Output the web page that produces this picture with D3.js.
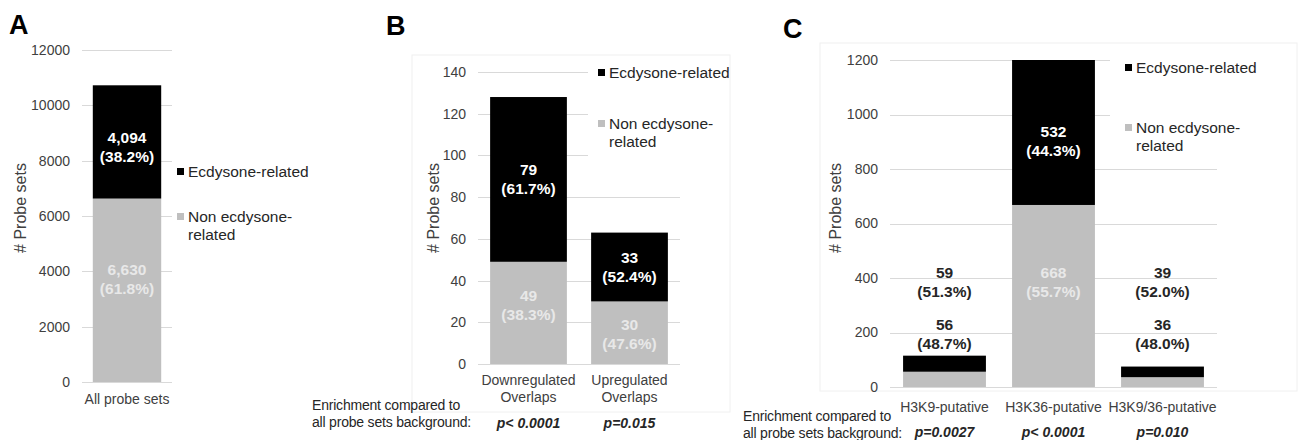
<!DOCTYPE html>
<html>
<head>
<meta charset="utf-8">
<script src="https://cdn.jsdelivr.net/npm/d3@7/dist/d3.min.js"></script>
<style>
  html, body { margin: 0; padding: 0; background: #fff; }
  svg { display: block; font-family: "Liberation Sans", Arial, sans-serif; }
</style>
</head>
<body>
<svg id="chart" width="1298" height="440"></svg>
<script>
// ---- Panel A: all probe sets ----
const aCategories = ["All probe sets"];
const aEcdysone = [4094];
const aNonEcdysone = [6630];
const aEcdysonePct = ["38.2%"];
const aNonEcdysonePct = ["61.8%"];
const aTicks = [0, 2000, 4000, 6000, 8000, 10000, 12000];

// ---- Panel B: overlaps with regulated genes ----
const bCategories = [["Downregulated", "Overlaps"], ["Upregulated", "Overlaps"]];
const bEcdysone = [79, 33];
const bNonEcdysone = [49, 30];
const bEcdysonePct = ["61.7%", "52.4%"];
const bNonEcdysonePct = ["38.3%", "47.6%"];
const bTicks = [0, 20, 40, 60, 80, 100, 120, 140];
const bPValues = ["p< 0.0001", "p=0.015"];

// ---- Panel C: histone-mark putative targets ----
const cCategories = [["H3K9-putative"], ["H3K36-putative"], ["H3K9/36-putative"]];
const cEcdysone = [59, 532, 39];
const cNonEcdysone = [56, 668, 36];
const cEcdysonePct = ["51.3%", "44.3%", "52.0%"];
const cNonEcdysonePct = ["48.7%", "55.7%", "48.0%"];
const cTicks = [0, 200, 400, 600, 800, 1000, 1200];
const cPValues = ["p=0.0027", "p< 0.0001", "p=0.010"];

const seriesNames = ["Ecdysone-related", ["Non ecdysone-", "related"]];
const enrichmentLines = ["Enrichment compared to", "all probe sets background:"];

const BLACK = "#000000";
const GRAY = "#bfbfbf";
const GRID = "#d9d9d9";
const AXIS_TEXT = "#404040";
const DARK_TEXT = "#262626";

const svg = d3.select("#chart");

function fmt(v) { return d3.format(",")(v); }

function drawPanel(p) {
  const g = svg.append("g");

  // faint chart-area frame
  if (p.frame) {
    g.append("rect")
      .attr("x", p.frame[0]).attr("y", p.frame[1])
      .attr("width", p.frame[2]).attr("height", p.frame[3])
      .attr("fill", "none").attr("stroke", "#f0f0f0").attr("stroke-width", 1);
  }

  const y = d3.scaleLinear().domain(p.yDomain).range(p.yRange);
  const x = d3.scaleBand()
    .domain(d3.range(p.categories.length))
    .range(p.xRange)
    .paddingInner(0.24)
    .paddingOuter(0.12);

  // gridlines + tick labels through a left axis
  const axis = d3.axisLeft(y).tickValues(p.ticks)
    .tickSize(-(p.xRange[1] - p.xRange[0]))
    .tickPadding(12)
    .tickFormat(d3.format("d"));
  const ag = g.append("g").attr("transform", `translate(${p.xRange[0]},0)`).call(axis);
  ag.select(".domain").remove();
  ag.selectAll(".tick line").attr("stroke", GRID).attr("stroke-width", 1)
    .attr("shape-rendering", "crispEdges");
  ag.selectAll(".tick text").attr("fill", AXIS_TEXT).attr("font-size", 14)
    .attr("font-family", "Liberation Sans, Arial, sans-serif");

  // legend, on a white backing that hides the gridlines behind it
  if (p.legendBox) {
    g.append("rect").attr("x", p.legendBox[0]).attr("y", p.legendBox[1])
      .attr("width", p.legendBox[2]).attr("height", p.legendBox[3]).attr("fill", "#fff");
  }
  const lg = g.append("g");
  [[BLACK, seriesNames[0], p.legendY[0]], [GRAY, seriesNames[1], p.legendY[1]]].forEach(([col, name, ly]) => {
    lg.append("rect").attr("x", p.legendX).attr("y", ly - 4).attr("width", 7).attr("height", 7).attr("fill", col);
    const lines = Array.isArray(name) ? name : [name];
    lines.forEach((t, i) => {
      lg.append("text").attr("x", p.legendX + 11).attr("y", ly + i * 18)
        .attr("dy", "0.35em").attr("font-size", 15.5).attr("fill", DARK_TEXT).text(t);
    });
  });

  // stacked bars: non-ecdysone at the bottom, ecdysone on top
  const bars = g.append("g");
  p.categories.forEach((c, i) => {
    const non = p.non[i], ecd = p.ecd[i];
    bars.append("rect").attr("x", x(i)).attr("width", x.bandwidth())
      .attr("y", y(non)).attr("height", y(0) - y(non)).attr("fill", GRAY);
    bars.append("rect").attr("x", x(i)).attr("width", x.bandwidth())
      .attr("y", y(non + ecd)).attr("height", y(non) - y(non + ecd)).attr("fill", BLACK);
  });

  // value labels (count over percentage)
  const lab = g.append("g").attr("font-size", 15.5).attr("font-weight", "bold").attr("text-anchor", "middle");
  p.categories.forEach((c, i) => {
    const cx = x(i) + x.bandwidth() / 2;
    const pos = p.labelPos(i, y);
    [[fmt(p.ecd[i]), "(" + p.ecdPct[i] + ")", pos.ecdY, pos.ecdCol],
     [fmt(p.non[i]), "(" + p.nonPct[i] + ")", pos.nonY, pos.nonCol]].forEach(([v, pc, ly, col]) => {
      lab.append("text").attr("x", cx).attr("y", ly - 9.5).attr("dy", "0.35em").attr("fill", col).text(v);
      lab.append("text").attr("x", cx).attr("y", ly + 9.5).attr("dy", "0.35em").attr("fill", col).text(pc);
    });
  });

  // category labels
  const cg = g.append("g").attr("font-size", 14).attr("fill", AXIS_TEXT).attr("text-anchor", "middle");
  p.categories.forEach((c, i) => {
    const cx = x(i) + x.bandwidth() / 2;
    const lines = Array.isArray(c) ? c : [c];
    lines.forEach((t, k) => {
      cg.append("text").attr("x", cx).attr("y", p.catY + k * 17).attr("dy", "0.35em").text(t);
    });
  });

  // p-values
  if (p.pValues) {
    const pg = g.append("g").attr("font-size", 14).attr("font-weight", "bold")
      .attr("font-style", "italic").attr("fill", DARK_TEXT).attr("text-anchor", "middle");
    p.pValues.forEach((t, i) => {
      pg.append("text").attr("x", x(i) + x.bandwidth() / 2).attr("y", p.pY).attr("dy", "0.35em").text(t);
    });
    enrichmentLines.forEach((t, k) => {
      g.append("text").attr("x", p.enrichX).attr("y", p.enrichY + k * 17).attr("dy", "0.35em")
        .attr("font-size", 14).attr("fill", DARK_TEXT).attr("letter-spacing", "-0.2").text(t);
    });
  }

  // y-axis title
  g.append("text")
    .attr("transform", `translate(${p.titleX},208) rotate(-90)`)
    .attr("text-anchor", "middle").attr("dy", "0.35em")
    .attr("font-size", 16).attr("fill", AXIS_TEXT).text("# Probe sets");

  // panel letter
  g.append("text").attr("x", p.letterX).attr("y", p.letterY)
    .attr("font-size", 27).attr("font-weight", "bold").attr("fill", "#000").text(p.letter);
}

// labels sit inside each segment, near its middle (shifted by a per-label nudge)
function insideLabels(p, nudge) {
  return (i, y) => {
    const non = p.non[i], ecd = p.ecd[i];
    const n = nudge[i] || [0, 0];
    return {
      ecdY: (y(non) + y(non + ecd)) / 2 + n[0], ecdCol: "#ffffff",
      nonY: (y(0) + y(non)) / 2 + n[1], nonCol: "#e8e8e8"
    };
  };
}

const panelA = {
  letter: "A", letterX: 9, letterY: 34,
  categories: aCategories, ecd: aEcdysone, non: aNonEcdysone,
  ecdPct: aEcdysonePct, nonPct: aNonEcdysonePct,
  ticks: aTicks, yDomain: [0, 12000], yRange: [382, 50], xRange: [82, 172],
  legendX: 177, legendY: [172, 217], titleX: 20, catY: 399
};
panelA.labelPos = insideLabels(panelA, [[5, -11]]);
drawPanel(panelA);

const panelB = {
  letter: "B", letterX: 386, letterY: 35,
  frame: [412, 55, 318, 357],
  categories: bCategories, ecd: bEcdysone, non: bNonEcdysone,
  ecdPct: bEcdysonePct, nonPct: bNonEcdysonePct,
  ticks: bTicks, yDomain: [0, 140], yRange: [364, 72], xRange: [478, 680],
  legendBox: [588, 60, 140, 104],
  legendX: 598, legendY: [73, 124], titleX: 433, catY: 380,
  pValues: bPValues, pY: 423, enrichX: 312, enrichY: 405
};
panelB.labelPos = insideLabels(panelB, [[0, -7.5], [0, 1]]);
drawPanel(panelB);

const panelC = {
  letter: "C", letterX: 783, letterY: 38,
  frame: [820, 43, 477, 348],
  categories: cCategories, ecd: cEcdysone, non: cNonEcdysone,
  ecdPct: cEcdysonePct, nonPct: cNonEcdysonePct,
  ticks: cTicks, yDomain: [0, 1200], yRange: [387, 60], xRange: [890, 1217],
  legendBox: [1110, 48, 186, 110],
  legendX: 1125, legendY: [68, 128], titleX: 835, catY: 407,
  pValues: cPValues, pY: 432, enrichX: 743, enrichY: 416
};
// short bars carry their labels stacked above them
panelC.labelPos = (i, y) => {
  const inside = insideLabels(panelC, [[0, 0], [9, -13.5], [0, 0]])(i, y);
  if (panelC.ecd[i] + panelC.non[i] > 300) return inside;
  return { ecdY: y(384), ecdCol: DARK_TEXT, nonY: y(193), nonCol: DARK_TEXT };
};
drawPanel(panelC);
</script>
</body>
</html>
